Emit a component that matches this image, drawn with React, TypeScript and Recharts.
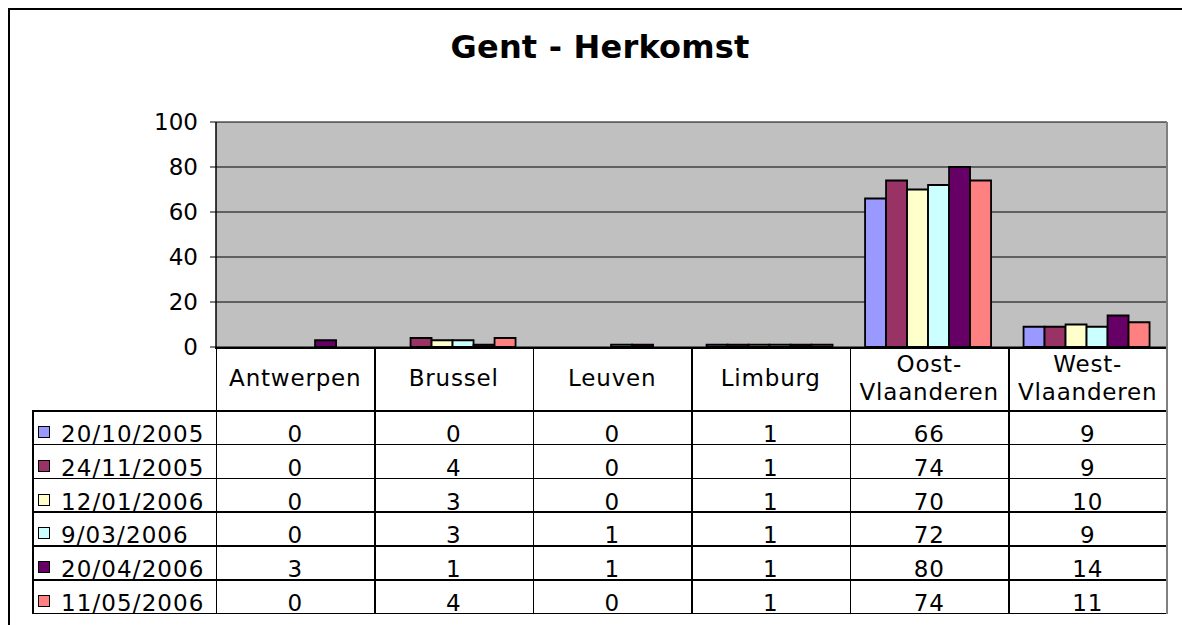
import React from "react";
import { BarChart, Bar, XAxis, YAxis, CartesianGrid } from "recharts";

// categorieën (herkomst) en reeksen (datums)
const categories = ["Antwerpen", "Brussel", "Leuven", "Limburg", "Oost-Vlaanderen", "West-Vlaanderen"];
const categoryLines = [["Antwerpen"], ["Brussel"], ["Leuven"], ["Limburg"], ["Oost-", "Vlaanderen"], ["West-", "Vlaanderen"]];
const seriesNames = ["20/10/2005", "24/11/2005", "12/01/2006", "9/03/2006", "20/04/2006", "11/05/2006"];
const seriesColors = ["#9999FF", "#993366", "#FFFFCC", "#CCFFFF", "#660066", "#FF8080"];

const s20102005 = [0, 0, 0, 1, 66, 9];
const s24112005 = [0, 4, 0, 1, 74, 9];
const s12012006 = [0, 3, 0, 1, 70, 10];
const s09032006 = [0, 3, 1, 1, 72, 9];
const s20042006 = [3, 1, 1, 1, 80, 14];
const s11052006 = [0, 4, 0, 1, 74, 11];
const seriesValues = [s20102005, s24112005, s12012006, s09032006, s20042006, s11052006];

const yTicks = [0, 20, 40, 60, 80, 100];

const chartData = categories.map((cat, i) => {
  const row: Record<string, string | number> = { cat };
  seriesNames.forEach((name, s) => {
    row[name] = seriesValues[s][i];
  });
  return row;
});

// plot geometry (page coordinates)
const PLOT_L = 216;
const PLOT_R = 1167;
const PLOT_T = 122;
const PLOT_B = 347;
const HEAD_B = 410;
const ROW_H = 33.8;
const LEG_L = 32;
const colW = (PLOT_R - PLOT_L) / categories.length;
const font = "'DejaVu Sans', Verdana, sans-serif";
const spacing = 0.8;

const line = (x: number, y: number, w: number, h: number, color = "#000") => (
  <div style={{ position: "absolute", left: x, top: y, width: w, height: h, background: color }} />
);

export default function App() {
  const tableBottom = HEAD_B + ROW_H * seriesNames.length;
  return (
    <div style={{ position: "fixed", left: 0, top: 0, width: 1182, height: 625, overflow: "hidden", background: "#fff", fontFamily: font }}>
      {/* kader rond de grafiek (alleen boven en links zichtbaar) */}
      {line(8, 8, 1200, 1.5)}
      {line(8, 8, 1.5, 617)}
      <div style={{ position: "absolute", left: 0, width: 1200, top: 28, textAlign: "center", fontWeight: "bold", fontSize: 32, letterSpacing: 0.2, color: "#000" }}>
        Gent - Herkomst
      </div>
      <div style={{ position: "absolute", left: 0, top: 0, width: 1182, height: 625 }}>
        <BarChart
          width={1182}
          height={625}
          data={chartData}
          margin={{ top: PLOT_T, left: PLOT_L - 60, right: 1182 - PLOT_R, bottom: 625 - PLOT_B }}
          barCategoryGap="9.5%"
          barGap={0}
          accessibilityLayer={false}
        >
          <CartesianGrid fill="#C0C0C0" stroke="#000" vertical={false} strokeWidth={1} />
          <XAxis dataKey="cat" hide />
          <YAxis
            width={60}
            domain={[0, 100]}
            ticks={yTicks}
            tickSize={6}
            tickMargin={12}
            axisLine={{ stroke: "#000", strokeWidth: 1.5 }}
            tickLine={{ stroke: "#000" }}
            tick={{ fill: "#000", fontSize: 23, fontFamily: font }}
          />
          {seriesNames.map((name, s) => (
            <Bar key={name} dataKey={name} fill={seriesColors[s]} stroke="#000" strokeWidth={1.8} isAnimationActive={false} />
          ))}
        </BarChart>
      </div>
      {/* rechterrand van plotgebied */}
      {line(PLOT_R - 1, PLOT_T, 2, PLOT_B - PLOT_T, "#808080")}
      {/* gegevenstabel */}
      {line(PLOT_L - 1, PLOT_B, PLOT_R - PLOT_L + 1, 1.5)}
      {line(LEG_L, HEAD_B, PLOT_R - LEG_L, 1.5)}
      {seriesNames.map((_, r) => line(LEG_L, HEAD_B + ROW_H * (r + 1), PLOT_R - LEG_L, 1.5))}
      {line(LEG_L, HEAD_B, 1.5, tableBottom - HEAD_B + 1)}
      {categories.map((_, c) => line(PLOT_L + colW * c - 0.5, PLOT_B, 1.5, tableBottom - PLOT_B + 1))}
      {line(PLOT_R - 1, PLOT_B, 2, tableBottom - PLOT_B + 1.5, "#808080")}
      {categoryLines.map((lines, c) => (
        <div
          key={categories[c]}
          style={{
            position: "absolute",
            left: PLOT_L + colW * c,
            width: colW,
            top: lines.length > 1 ? PLOT_B + 3 : PLOT_B + 17,
            textAlign: "center",
            fontSize: 23,
            lineHeight: "28px",
            letterSpacing: spacing,
            color: "#000",
          }}
        >
          {lines.map((l) => (
            <div key={l}>{l}</div>
          ))}
        </div>
      ))}
      {seriesNames.map((name, r) => (
        <React.Fragment key={name}>
          <div style={{ position: "absolute", left: 38, top: HEAD_B + ROW_H * r + 16, width: 12, height: 12, background: seriesColors[r], border: "1.5px solid #000", boxSizing: "border-box" }} />
          <div style={{ position: "absolute", left: 61, top: HEAD_B + ROW_H * r + 7, fontSize: 23, lineHeight: "34px", color: "#000", letterSpacing: 1.1 }}>
            {name}
          </div>
          {seriesValues[r].map((v, c) => (
            <div
              key={c}
              style={{ position: "absolute", left: PLOT_L + colW * c, width: colW, top: HEAD_B + ROW_H * r + 7, textAlign: "center", fontSize: 23, lineHeight: "34px", letterSpacing: spacing, color: "#000" }}
            >
              {v}
            </div>
          ))}
        </React.Fragment>
      ))}
    </div>
  );
}
